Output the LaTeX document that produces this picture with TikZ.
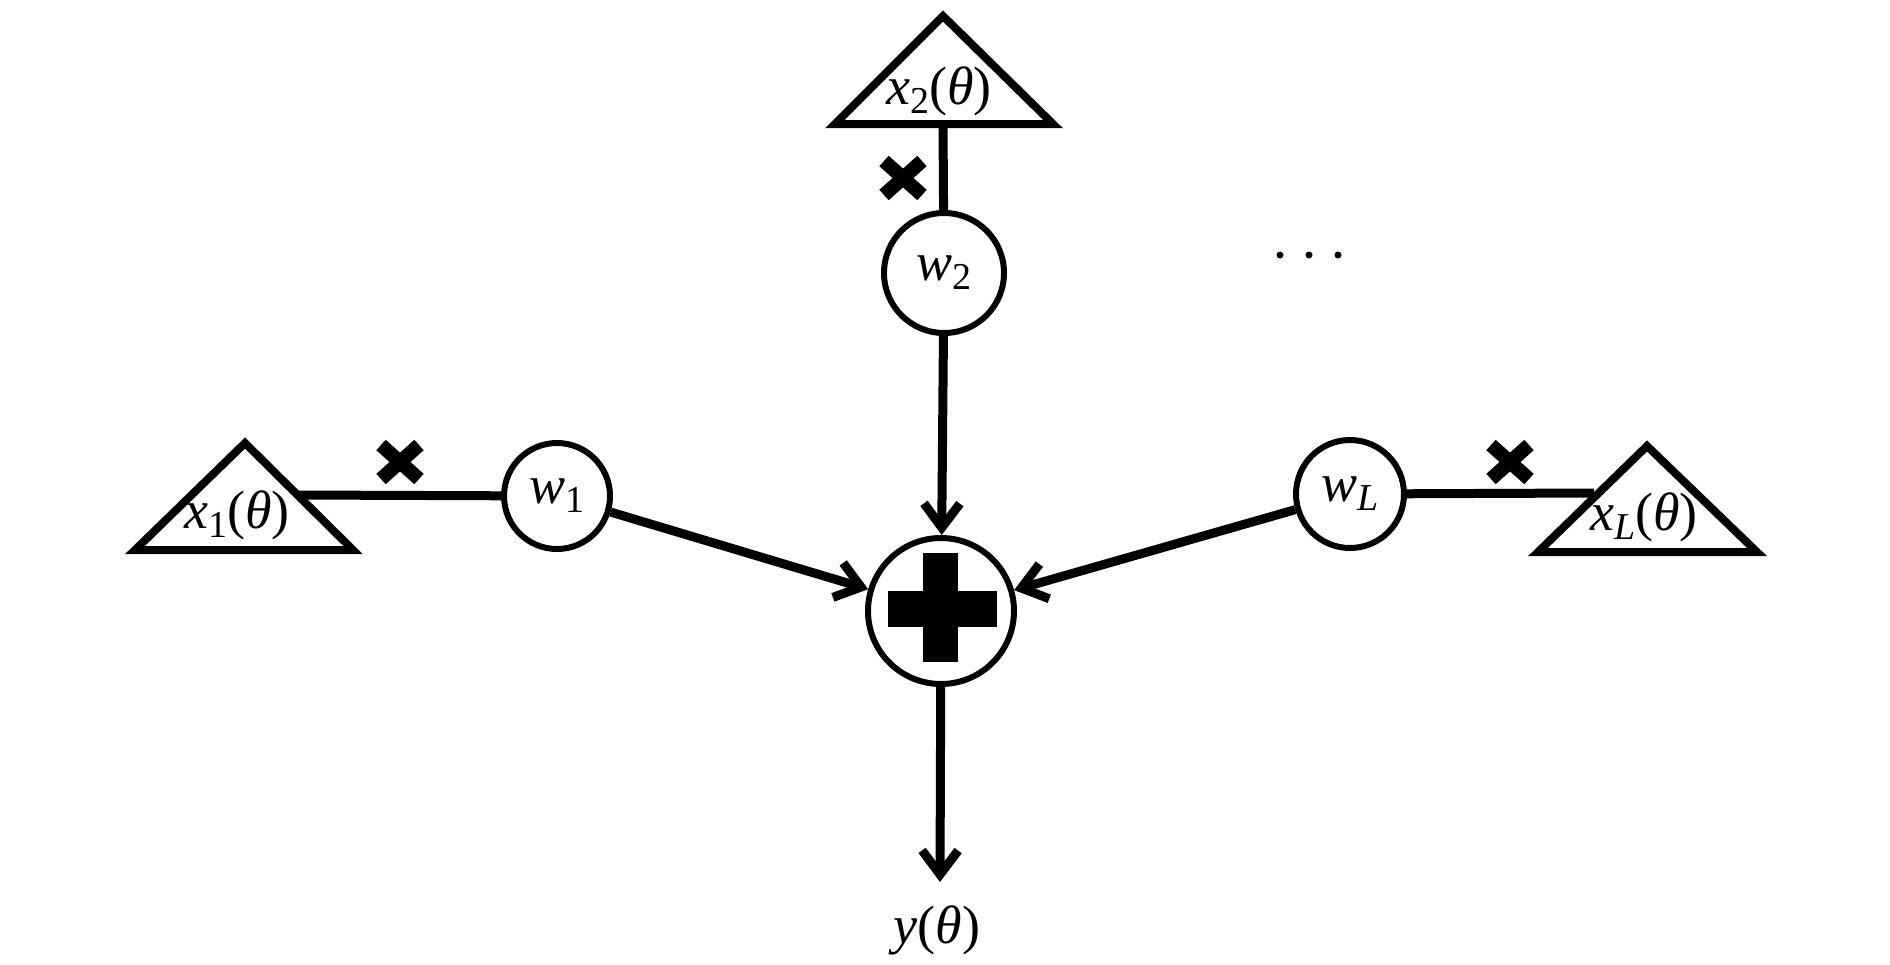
\documentclass[tikz,border=0pt]{standalone}
\usepackage{fontspec}
\setmainfont{Liberation Serif}
\usetikzlibrary{arrows.meta}
\newcommand{\subsc}[1]{\raisebox{-4.5pt}{\fontsize{19}{19}\selectfont #1}}
\tikzset{
  lbl/.style={inner sep=0pt, anchor=base, font=\fontsize{27}{30}\selectfont},
  wnode/.style={circle, draw, line width=3pt, inner sep=0pt, font=\fontsize{27}{30}\selectfont},
  tri/.style={draw, line width=4pt, line join=miter},
  conn/.style={line width=4.5pt},
  arr/.style={line width=4.5pt, -{Straight Barb[length=12pt,width=18pt]}},
  xmark/.style={line width=7pt, line cap=butt},
}
\begin{document}
\begin{tikzpicture}[x=0.5pt, y=-0.5pt]
\path[use as bounding box] (0,0) rectangle (1890,964);

% triangles
\draw[tri] (943,16) -- (1053,124) -- (835,124) -- cycle;
\draw[tri] (245,443) -- (353,550) -- (135,550) -- cycle;
\draw[tri] (1647,446) -- (1757,552) -- (1538,552) -- cycle;
\node[lbl] (x2) at (939,104) {\textit{x}\subsc{2}(\textit{θ})};
\node[lbl] (x1) at (237,528) {\textit{x}\subsc{1}(\textit{θ})};
\node[lbl] (xL) at (1644,530) {\textit{x}\subsc{\textit{L}}(\textit{θ})};
\coordinate (t2) at (943,124);
\coordinate (t1) at (298,495);
\coordinate (tL) at (1594,493);

% weight circles
\node[wnode, minimum size=60pt] (w2) at (944,273) {\textit{w}\subsc{2}};
\node[wnode, minimum size=53pt] (w1) at (557,496) {\textit{w}\subsc{1}};
\node[wnode, minimum size=54pt] (wL) at (1350,494) {\textit{w}\subsc{\textit{L}}};

% sum node
\node[circle, draw, line width=3pt, minimum size=73pt, inner sep=0pt] (sum) at (941,611) {};
\fill (923,553) rectangle (958,662);
\fill (888,591) rectangle (997,627);

% connectors
\draw[conn] (t2) -- (w2);
\draw[conn] (t1) -- (w1);
\draw[conn] (wL) -- (tL);
\draw[arr] (w2) -- (sum);
\draw[arr] (w1) -- (sum);
\draw[arr] (wL) -- (sum);
\coordinate (out) at (940,882);
\draw[arr] (sum) -- (out);
\node[lbl] (y) at (937,943) {\textit{y}(\textit{θ})};

% multiply marks
\foreach \cx/\cy in {903/178, 400/462, 1510/462} {
  \draw[xmark] (\cx-19,\cy-17) -- (\cx+19,\cy+17);
  \draw[xmark] (\cx-19,\cy+17) -- (\cx+19,\cy-17);
}

% dots
\foreach \dx in {1280,1309,1338} \fill (\dx,255) circle (3.5);
\end{tikzpicture}
\end{document}
